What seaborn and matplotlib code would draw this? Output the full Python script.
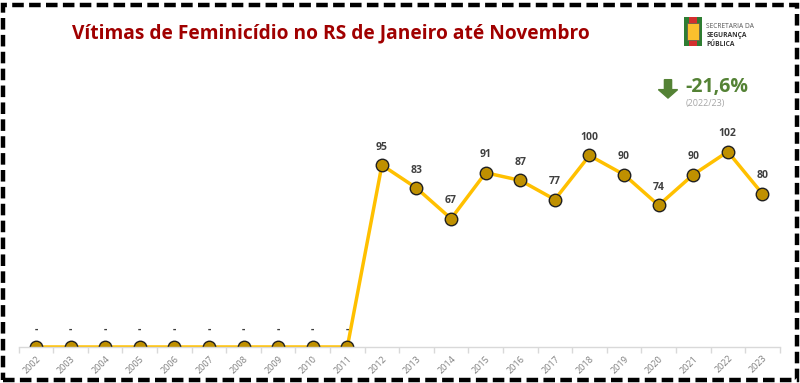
import numpy as np
import pandas as pd
import matplotlib.pyplot as plt
import seaborn as sns
from matplotlib.patches import Rectangle, FancyArrow

anos = [str(a) for a in range(2002, 2024)]
vitimas = [0, 0, 0, 0, 0, 0, 0, 0, 0, 0, 95, 83, 67, 91, 87, 77, 100, 90, 74, 90, 102, 80]
rotulos = ['-' if v == 0 else str(v) for v in vitimas]

df = pd.DataFrame({'ano': anos, 'vitimas': vitimas})

sns.set_theme(style='white')
plt.rcParams['font.family'] = ['Open Sans', 'DejaVu Sans']

fig = plt.figure(figsize=(8, 3.83), dpi=100)
ax = fig.add_axes([0.0234, 0.094, 0.9512, 0.60])

sns.lineplot(data=df, x='ano', y='vitimas', ax=ax, color='#FFC000', linewidth=2.5,
             marker='o', markersize=9, markerfacecolor='#BF9000', markeredgecolor='#202020',
             markeredgewidth=1.0, sort=False)

for i, (v, r) in enumerate(zip(vitimas, rotulos)):
    ax.annotate(r, (i, v), xytext=(0, 9), textcoords='offset points', ha='center', va='bottom',
                fontsize=7.5, fontweight='bold', color='#404040')

ax.set_xlim(-0.5, len(anos) - 0.5)
ax.set_ylim(0, 120)
ax.set_xlabel('')
ax.set_ylabel('')
ax.set_yticks([])
ax.set_xticks(range(len(anos)))
ax.set_xticklabels(anos, rotation=45, ha='right', rotation_mode='anchor', fontsize=6.5, color='#7F7F7F')
ax.set_xticks(np.arange(-0.5, len(anos), 1), minor=True)
ax.tick_params(axis='x', which='major', length=0, pad=5)
ax.tick_params(axis='x', which='minor', length=4, color='#D9D9D9', bottom=True)
for s in ['top', 'left', 'right']:
    ax.spines[s].set_visible(False)
ax.spines['bottom'].set_color('#D9D9D9')
ax.spines['bottom'].set_linewidth(1)

# moldura tracejada
fig.patches.append(Rectangle((0.004, 0.008), 0.992, 0.978, transform=fig.transFigure,
                             fill=False, edgecolor='black', linewidth=3.2,
                             linestyle=(0, (2.6, 1.2)), zorder=10))

fig.text(0.414, 0.912, 'Vítimas de Feminicídio no RS de Janeiro até Novembro', ha='center', va='center',
         fontsize=13.8, fontweight='bold', color='#A00000')

# destaque variação
fig.patches.append(FancyArrow(0.835, 0.792, 0, -0.026, width=0.009, head_width=0.024, head_length=0.022,
                              transform=fig.transFigure, color='#548235', length_includes_head=False))
fig.text(0.857, 0.772, '-21,6%', ha='left', va='center', fontsize=14, fontweight='bold', color='#548235')
fig.text(0.882, 0.731, '(2022/23)', ha='center', va='center', fontsize=6.5, color='#A6A6A6')

# logo (brasão simplificado)
fig.patches.append(Rectangle((0.855, 0.88), 0.022, 0.075, transform=fig.transFigure,
                             facecolor='#2E7D32', edgecolor='none'))
fig.patches.append(Rectangle((0.861, 0.88), 0.01, 0.075, transform=fig.transFigure,
                             facecolor='#D32F2F', edgecolor='none'))
fig.patches.append(Rectangle((0.8585, 0.895), 0.015, 0.045, transform=fig.transFigure,
                             facecolor='#FBC02D', edgecolor='#555555', linewidth=0.5))
fig.text(0.883, 0.93, 'SECRETARIA DA', ha='left', va='center', fontsize=4.8, color='#555555')
fig.text(0.883, 0.907, 'SEGURANÇA', ha='left', va='center', fontsize=4.8, fontweight='bold', color='#333333')
fig.text(0.883, 0.884, 'PÚBLICA', ha='left', va='center', fontsize=4.8, fontweight='bold', color='#333333')

fig.savefig('out.png', dpi=100)
